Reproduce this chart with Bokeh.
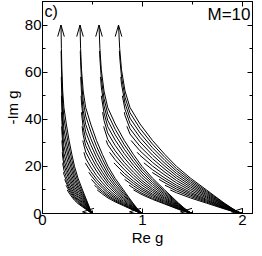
import numpy as np
from bokeh.plotting import figure
from bokeh.models import Range1d, Label, FixedTicker, LinearAxis
from bokeh.embed import file_html
from bokeh.resources import INLINE

# heights (-Im g) at which the outer (arrowed) trajectory of each family was read
y_levels = [80, 70, 61, 52, 45, 38, 31, 25, 20, 15, 10, 7, 4.5, 2.5, 1.2, 0.4, 0]
# Re g of the outer trajectory at those heights, one list per family
x_fam1 = [0.185, 0.189, 0.194, 0.202, 0.214, 0.238, 0.266, 0.294, 0.320, 0.355, 0.400, 0.428, 0.452, 0.470, 0.484, 0.494, 0.500]
x_fam2 = [0.375, 0.381, 0.390, 0.407, 0.432, 0.482, 0.540, 0.600, 0.655, 0.725, 0.810, 0.860, 0.903, 0.940, 0.966, 0.987, 1.000]
x_fam3 = [0.565, 0.574, 0.588, 0.615, 0.652, 0.727, 0.818, 0.910, 0.995, 1.100, 1.222, 1.296, 1.358, 1.412, 1.450, 1.481, 1.500]
x_fam4 = [0.760, 0.772, 0.790, 0.825, 0.875, 0.975, 1.100, 1.225, 1.340, 1.480, 1.640, 1.735, 1.815, 1.885, 1.935, 1.975, 2.000]
families = [x_fam1, x_fam2, x_fam3, x_fam4]

# each bundle: relative height of every trajectory (one list per family) ...
scale_fam1 = [1.00, 0.90, 0.80, 0.72, 0.64, 0.57, 0.51, 0.46, 0.41, 0.37, 0.34, 0.31, 0.28]
scale_fam2 = [1.00, 0.92, 0.84, 0.77, 0.70, 0.64, 0.58, 0.52, 0.47, 0.43, 0.39, 0.36, 0.33]
scale_fam3 = [1.00, 0.94, 0.88, 0.82, 0.76, 0.70, 0.65, 0.60, 0.55, 0.51, 0.47, 0.43, 0.40]
scale_fam4 = [1.00, 0.95, 0.90, 0.85, 0.80, 0.75, 0.70, 0.65, 0.60, 0.56, 0.52, 0.48, 0.44]
scales = [scale_fam1, scale_fam2, scale_fam3, scale_fam4]
# ... and the height where each trajectory stops
line_top = [80, 69, 58, 50, 43, 37, 31, 26, 21.5, 17.5, 14.5, 12, 10]

# start arrows on the real axis (tips)
start_arrow_x = [0.40, 0.87, 1.38, 1.89]
start_arrow_y = [0.7, 0.7, 0.7, 0.7]

x_ticks = [0, 1, 2]
x_minor = [0.5, 1.5]
y_ticks = [0, 20, 40, 60, 80]
y_minor = [10, 30, 50, 70]
x_max = 2.1
y_max = 90

FONT = "Liberation Sans"

p = figure(width=254, height=248, x_range=Range1d(0, x_max), y_range=Range1d(0, y_max),
           output_backend="svg", toolbar_location=None,
           min_border_left=0, min_border_right=2, min_border_top=1, min_border_bottom=0)
p.xgrid.visible = False
p.ygrid.visible = False
p.outline_line_color = "black"
p.background_fill_color = "white"
p.border_fill_color = "white"

yl = np.array(y_levels, dtype=float)
xs_all, ys_all = [], []
for fam, sc in zip(families, scales):
    xf = np.array(fam, dtype=float)
    for c, h in zip(sc, line_top):
        ys = c * yl
        keep = ys < h - 1e-9
        x_h = np.interp(h, ys[::-1], xf[::-1])
        xs_all.append([x_h] + list(xf[keep]))
        ys_all.append([h] + list(ys[keep]))
p.multi_line(xs_all, ys_all, line_color="black", line_width=1)

# arrow heads at the top of the outer trajectories
top_x = [fam[0] for fam in families]
top_y = [y_levels[0]] * len(families)
for ang in (-74, -106):
    p.ray(x=top_x, y=top_y, angle=ang, angle_units="deg", length=12,
          length_units="screen", line_color="black", line_width=1)
# arrow heads at the start points on the real axis
for ang in (17, -17):
    p.ray(x=start_arrow_x, y=start_arrow_y, angle=ang, angle_units="deg", length=12,
          length_units="screen", line_color="black", line_width=1)

def style(ax, labels=True):
    ax.axis_line_color = "black"
    ax.major_tick_in = 5
    ax.major_tick_out = 0
    ax.minor_tick_in = 3
    ax.minor_tick_out = 0
    ax.major_tick_line_color = "black"
    ax.minor_tick_line_color = "black"
    ax.major_label_text_font = FONT
    ax.major_label_text_color = "black"
    ax.axis_label_text_font = FONT
    ax.axis_label_text_font_style = "normal"
    ax.axis_label_text_color = "black"
    if labels:
        ax.major_label_text_font_size = "15px"
        ax.axis_label_text_font_size = "15px"
        ax.major_label_standoff = 1
        ax.axis_label_standoff = 1
    else:
        ax.major_label_text_font_size = "0px"
        ax.major_label_standoff = 0

p.xaxis.ticker = FixedTicker(ticks=x_ticks, minor_ticks=x_minor)
p.yaxis.ticker = FixedTicker(ticks=y_ticks, minor_ticks=y_minor)
p.xaxis.axis_label = "Re g"
p.yaxis.axis_label = "-Im g"
style(p.xaxis[0])
style(p.yaxis[0])

top_ax = LinearAxis(ticker=FixedTicker(ticks=x_ticks, minor_ticks=x_minor))
right_ax = LinearAxis(ticker=FixedTicker(ticks=y_ticks, minor_ticks=y_minor))
style(top_ax, labels=False)
style(right_ax, labels=False)
p.add_layout(top_ax, "above")
p.add_layout(right_ax, "right")

p.add_layout(Label(x=0.02, y=89.5, text="c)", text_baseline="top", text_align="left",
                   text_font=FONT, text_font_size="16px", text_color="black"))
p.add_layout(Label(x=2.08, y=88.5, text="M=10", text_baseline="top", text_align="right",
                   text_font=FONT, text_font_size="17px", text_color="black"))

open("out.html", "w").write(file_html(p, INLINE))
